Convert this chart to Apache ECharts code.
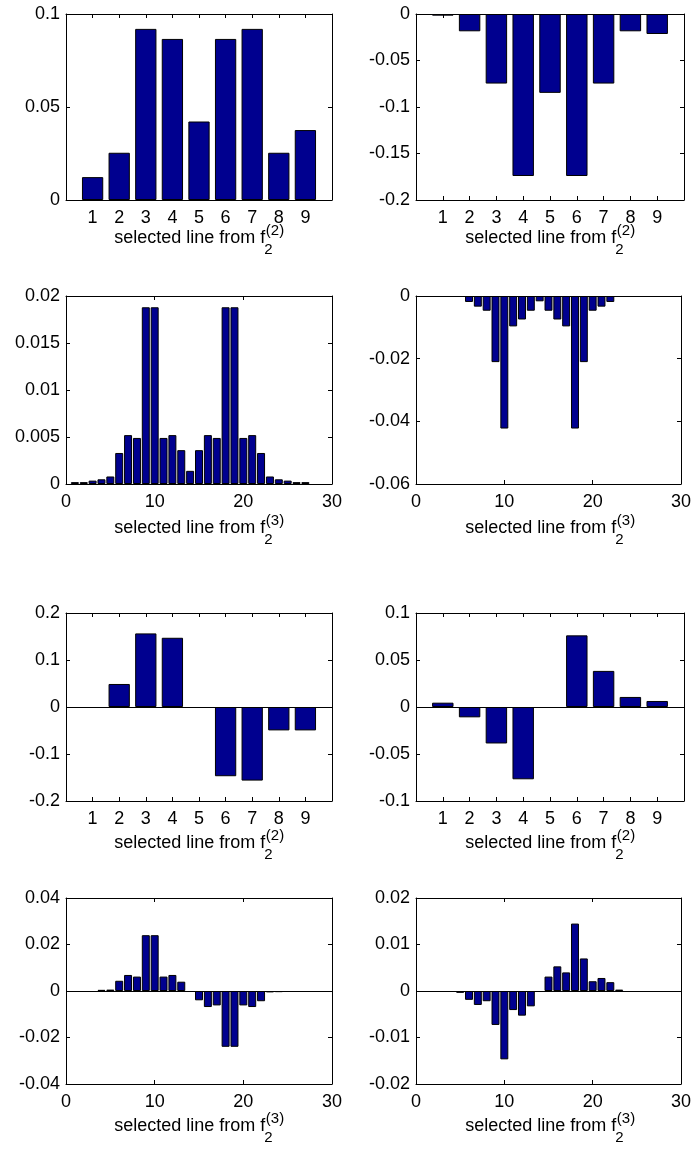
<!DOCTYPE html>
<html><head><meta charset="utf-8">
<script src="https://cdn.jsdelivr.net/npm/echarts@6/dist/echarts.min.js"></script>
<style>html,body{margin:0;padding:0;background:#fff}#c{width:694px;height:1150px}</style>
</head><body><div id="c"></div>
<script>
// ---- data ----
const lines9 = [1, 2, 3, 4, 5, 6, 7, 8, 9];
const lines27 = [1, 2, 3, 4, 5, 6, 7, 8, 9, 10, 11, 12, 13, 14, 15, 16, 17, 18, 19, 20, 21, 22, 23, 24, 25, 26, 27];
const xTickLabels9 = ['1', '2', '3', '4', '5', '6', '7', '8', '9'];
const xTickLabels27 = ['0', '10', '20', '30'];

const rowA_left  = [0.0123, 0.0254, 0.0920, 0.0866, 0.0422, 0.0866, 0.0920, 0.0254, 0.0376];
const rowA_right = [-0.0018, -0.0186, -0.0748, -0.1742, -0.0848, -0.1742, -0.0748, -0.0186, -0.0215];
const rowB_left  = [0.0002, 0.0002, 0.00036, 0.0005, 0.0008, 0.0033, 0.0052, 0.0049, 0.0188, 0.0188, 0.0049, 0.0052, 0.0036, 0.0014,
                    0.0036, 0.0052, 0.0049, 0.0188, 0.0188, 0.0049, 0.0052, 0.0033, 0.0008, 0.0005, 0.00036, 0.0002, 0.0002];
const rowB_right = [0, 0, 0, 0, 0, -0.0019, -0.0034, -0.0047, -0.0211, -0.0423, -0.0097, -0.0075, -0.0047, -0.0017,
                    -0.0047, -0.0075, -0.0097, -0.0423, -0.0211, -0.0047, -0.0034, -0.0019, 0, 0, 0, 0, 0];
const rowC_left  = [0, 0.049, 0.1566, 0.1473, 0, -0.1473, -0.1566, -0.0498, -0.0498];
const rowC_right = [0.0046, -0.011, -0.0388, -0.0769, 0, 0.0762, 0.0384, 0.0107, 0.0064];
const rowD_left  = [0, 0, 0, 0.0005, 0.0006, 0.0044, 0.0069, 0.0062, 0.0240, 0.0240, 0.0062, 0.0069, 0.0040, 0,
                    -0.0040, -0.0069, -0.0062, -0.0240, -0.0240, -0.0062, -0.0069, -0.0044, -0.0006, -0.0005, 0, 0, 0];
const rowD_right = [0, 0, 0, 0, -0.0004, -0.0019, -0.0030, -0.0022, -0.0073, -0.0147, -0.0041, -0.0053, -0.0033, 0,
                    0.0031, 0.0053, 0.0040, 0.0145, 0.0070, 0.0021, 0.0028, 0.0019, 0.0003, 0, 0, 0, 0];

const yRanges = [[0, 0.1, 0.05], [-0.2, 0, 0.05], [0, 0.02, 0.005], [-0.06, 0, 0.02],
                 [-0.2, 0.2, 0.1], [-0.1, 0.1, 0.05], [-0.04, 0.04, 0.02], [-0.02, 0.02, 0.01]];
const xlabelMain = 'selected line from f';
const xlabelSub = '2';
const xlabelSup9 = '(2)';
const xlabelSup27 = '(3)';

// ---- layout / style ----
const FONT = '"Liberation Sans", Arial, Helvetica, sans-serif';
const TICK_FS = 18, LABEL_FS = 18, SCRIPT_FS = 15;
const colLeft = [66, 416], colWidth = [266, 268];
const rowTop = [14, 296, 613, 898], rowH = [186, 188, 188, 186];
const labelOffset = [38, 44, 42, 42];
const BAR = '#00008F';

const panels = [
  { x: lines9,  y: rowA_left,  kind: 9,  zero: false },
  { x: lines9,  y: rowA_right, kind: 9,  zero: false },
  { x: lines27, y: rowB_left,  kind: 27, zero: false },
  { x: lines27, y: rowB_right, kind: 27, zero: false },
  { x: lines9,  y: rowC_left,  kind: 9,  zero: true },
  { x: lines9,  y: rowC_right, kind: 9,  zero: true },
  { x: lines27, y: rowD_left,  kind: 27, zero: true },
  { x: lines27, y: rowD_right, kind: 27, zero: true }
];

const grid = [], xAxis = [], yAxis = [], series = [], graphic = [];
const measure = document.createElement('canvas').getContext('2d');
function textW(t, fs) { measure.font = fs + 'px ' + FONT; return measure.measureText(t).width; }

panels.forEach((p, i) => {
  const col = i % 2, row = Math.floor(i / 2);
  const L = colLeft[col], W = colWidth[col], T = rowTop[row], H = rowH[row];
  grid.push({ left: L, top: T, width: W, height: H, containLabel: false });
  const is9 = p.kind === 9;
  const xMin = 0, xMax = is9 ? 10 : 30, xInt = is9 ? 1 : 10;
  const tickLabels = is9 ? xTickLabels9 : xTickLabels27;
  const axisCommon = {
    gridIndex: i, min: xMin, max: xMax, interval: xInt, type: 'value',
    axisLine: { show: true, onZero: false, lineStyle: { color: '#000', width: 1 } },
    axisTick: { show: true, inside: true, length: 4, lineStyle: { color: '#000' } },
    splitLine: { show: false }
  };
  xAxis.push(Object.assign({}, axisCommon, {
    position: 'bottom',
    axisLabel: {
      show: true, color: '#000', fontSize: TICK_FS, fontFamily: FONT, margin: 9,
      showMinLabel: true, showMaxLabel: true,
      formatter: v => { const s = String(Math.round(v)); return tickLabels.indexOf(s) >= 0 ? s : ''; }
    }
  }));
  xAxis.push(Object.assign({}, axisCommon, { position: 'top', axisLabel: { show: false } }));
  const [yMin, yMax, yInt] = yRanges[i];
  const yCommon = {
    gridIndex: i, type: 'value', min: yMin, max: yMax, interval: yInt,
    axisLine: { show: true, onZero: false, lineStyle: { color: '#000', width: 1 } },
    axisTick: { show: true, inside: true, length: 4, lineStyle: { color: '#000' } },
    splitLine: { show: false }
  };
  yAxis.push(Object.assign({}, yCommon, {
    position: 'left',
    axisLabel: { show: true, color: '#000', fontSize: TICK_FS, fontFamily: FONT, margin: 6,
      showMinLabel: true, showMaxLabel: true,
      formatter: v => String(parseFloat(v.toPrecision(6))) }
  }));
  yAxis.push(Object.assign({}, yCommon, { position: 'right', axisLabel: { show: false } }));

  const s = {
    type: 'bar', xAxisIndex: 2 * i, yAxisIndex: 2 * i,
    // zero-height bars coincide with the baseline; skip drawing them
    data: p.x.map((x, k) => [x, p.y[k] === 0 ? '-' : p.y[k]]),
    barWidth: is9 ? '80%' : '90%',
    itemStyle: { color: BAR, borderColor: '#000', borderWidth: 1 },
    emphasis: { disabled: true },
    animation: false, silent: true
  };
  if (p.zero) {
    s.markLine = { silent: true, symbol: 'none', animation: false,
      label: { show: false },
      lineStyle: { color: '#000', width: 1, type: 'solid' },
      data: [{ yAxis: 0 }] };
  }
  series.push(s);

  // x-axis label with sub/superscript
  const sup = is9 ? xlabelSup9 : xlabelSup27;
  const mainW = textW(xlabelMain, LABEL_FS);
  const scrW = Math.max(textW(sup, SCRIPT_FS), textW(xlabelSub, SCRIPT_FS));
  const cx = L + W / 2;
  const x0 = cx - (mainW + scrW) / 2;
  const midY = T + H + labelOffset[row];
  graphic.push({ type: 'text', x: x0, y: midY, silent: true,
    style: { text: xlabelMain, fontSize: LABEL_FS, fontFamily: FONT, fill: '#000', verticalAlign: 'middle' } });
  graphic.push({ type: 'text', x: x0 + mainW + 0.5, y: midY - 7, silent: true,
    style: { text: sup, fontSize: SCRIPT_FS, fontFamily: FONT, fill: '#000', verticalAlign: 'middle' } });
  graphic.push({ type: 'text', x: x0 + mainW - 1, y: midY + 12, silent: true,
    style: { text: xlabelSub, fontSize: SCRIPT_FS, fontFamily: FONT, fill: '#000', verticalAlign: 'middle' } });
});

const chart = echarts.init(document.getElementById('c'), null, { renderer: 'canvas' });
chart.setOption({ animation: false, backgroundColor: '#fff', grid, xAxis, yAxis, series, graphic });
</script>
</body></html>
